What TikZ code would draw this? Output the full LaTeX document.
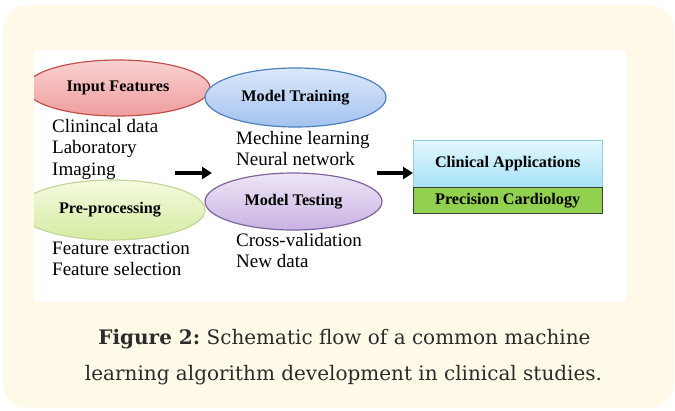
\documentclass[tikz,border=0pt]{standalone}
\usepackage{fontspec}
\setmainfont{Liberation Serif}
\newfontfamily\capfont{DejaVu Serif}
\usetikzlibrary{arrows.meta,shapes.geometric}

\definecolor{panel}{HTML}{FFFAE8}
\definecolor{redline}{HTML}{C0504D}
\definecolor{redtop}{HTML}{FAD2D2}
\definecolor{redbot}{HTML}{EF9D9D}
\definecolor{bluline}{HTML}{4F81BD}
\definecolor{blutop}{HTML}{DCE8FA}
\definecolor{blubot}{HTML}{A3C2F0}
\definecolor{grnline}{HTML}{C3D69B}
\definecolor{grntop}{HTML}{F4FADF}
\definecolor{grnbot}{HTML}{D5EBA2}
\definecolor{purline}{HTML}{8064A2}
\definecolor{purtop}{HTML}{EEE6F6}
\definecolor{purbot}{HTML}{C8B2E2}
\definecolor{appline}{HTML}{93CDDD}
\definecolor{apptop}{HTML}{E2F8FD}
\definecolor{appbot}{HTML}{A6E1F5}
\definecolor{cardfill}{HTML}{92D050}
\definecolor{capgray}{HTML}{2B2B2B}

\tikzset{
  stage/.style={ellipse, line width=1.2pt, inner sep=0pt},
  stagelabel/.style={font=\fontsize{16.2}{18}\selectfont\bfseries, text=black},
  itemtext/.style={anchor=base west, font=\fontsize{19}{21.5}\selectfont, text=black, inner sep=0pt},
  flowarrow/.style={line width=4pt, -{Triangle[length=10pt,width=12pt]}},
  appbox/.style={draw, minimum width=189pt, minimum height=47pt, inner sep=0pt, anchor=north west},
  caption/.style={font=\capfont\fontsize{20}{36}\selectfont, text=capgray, inner sep=0pt, anchor=base}
}

\begin{document}
\begin{tikzpicture}[x=1pt,y=-1pt]
  \useasboundingbox (0,0) rectangle (675,410);
  % page background and rounded panel
  \fill[white] (0,0) rectangle (675,410);
  \fill[panel,rounded corners=25pt] (3,5) rectangle (674,408);
  % white drawing area
  \fill[white] (34,50) rectangle (627,302);

  \begin{scope}
    \clip (34,50) rectangle (627,302);
    % input features
    \node[stage, draw=redline, top color=redtop, bottom color=redbot,
          minimum width=184pt, minimum height=56pt] (inp) at (118,88) {};
    % pre-processing
    \node[stage, draw=grnline, top color=grntop, bottom color=grnbot,
          minimum width=186pt, minimum height=60pt] (pre) at (112,210) {};
  \end{scope}
  \node[stagelabel] at (inp.center) {Input Features};
  \node[stagelabel] at (110,210) {Pre-processing};

  % model training
  \node[stage, draw=bluline, top color=blutop, bottom color=blubot,
        minimum width=181pt, minimum height=59pt] (trn) at (295.5,97.5) {};
  \node[stagelabel] at (trn.center) {Model Training};
  % model testing
  \node[stage, draw=purline, top color=purtop, bottom color=purbot,
        minimum width=177pt, minimum height=57pt] (tst) at (293.5,201.5) {};
  \node[stagelabel] at (tst.center) {Model Testing};

  % item lists
  \node[itemtext] (i1) at (52,132) {Clinincal data};
  \node[itemtext] (i2) at (52,153.5) {Laboratory};
  \node[itemtext] (i3) at (52,175) {Imaging};
  \node[itemtext] (t1) at (236,144) {Mechine learning};
  \node[itemtext] (t2) at (236,165.5) {Neural network};
  \node[itemtext] (p1) at (52,254) {Feature extraction};
  \node[itemtext] (p2) at (52,275.5) {Feature selection};
  \node[itemtext] (s1) at (236,246) {Cross-validation};
  \node[itemtext] (s2) at (236,267.5) {New data};

  % application boxes
  \node[appbox, draw=appline, top color=apptop, bottom color=appbot] (app) at (413,140) {};
  \node[stagelabel] at (app.center) {Clinical Applications};
  \node[appbox, draw=black!75, fill=cardfill, minimum height=26pt] (card) at (413,187) {};
  \node[stagelabel] at (card.center) {Precision Cardiology};

  % flow arrows
  \coordinate (a1s) at (175,173);
  \coordinate (a1e) at (212,173);
  \coordinate (a2s) at (377,173);
  \coordinate (a2e) at (app.west |- a2s);
  \draw[flowarrow] (a1s) -- (a1e);
  \draw[flowarrow] (a2s) -- (a2e);

  % caption
  \node[caption] (cap1) at (344.5,344) {\bfseries Figure 2:\mdseries\ Schematic flow of a common machine};
  \node[caption] (cap2) at (343.5,380) {learning algorithm development in clinical studies.};
\end{tikzpicture}
\end{document}
